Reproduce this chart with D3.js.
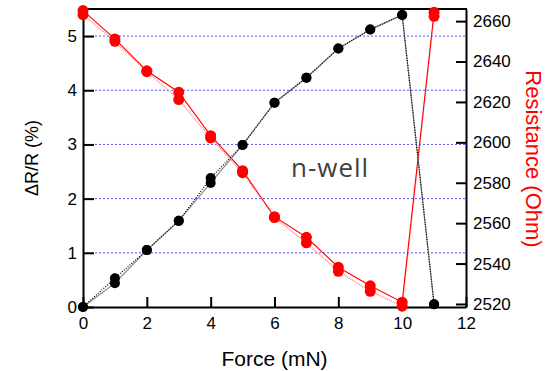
<!DOCTYPE html>
<html>
<head>
<meta charset="utf-8">
<script src="https://cdn.jsdelivr.net/npm/d3@7/dist/d3.min.js"></script>
<style>
  html, body { margin: 0; padding: 0; background: #fff; }
  svg { display: block; }
</style>
</head>
<body>
<script>
// Applied force (mN)
const force = [0, 1, 2, 3, 4, 5, 6, 7, 8, 9, 10, 11];

// ΔR/R (%) — two repeated measurement runs
const dRRunA = [0.00, 0.53, 1.05, 1.59, 2.38, 2.99, 3.77, 4.23, 4.77, 5.12, 5.39, 0.05];
const dRRunB = [0.00, 0.44, 1.05, 1.59, 2.29, 2.99, 3.77, 4.23, 4.77, 5.12, 5.39, 0.05];

// Resistance (Ohm) — two repeated measurement runs
const resRunA = [2665.2, 2651.2, 2635.4, 2624.8, 2603.3, 2586.0, 2563.2, 2553.0, 2538.2, 2529.0, 2520.9, 2664.4];
const resRunB = [2663.2, 2650.0, 2635.0, 2621.2, 2602.2, 2585.0, 2562.8, 2550.3, 2536.2, 2526.3, 2518.9, 2662.4];

// Axis ticks
const xTicks = [0, 2, 4, 6, 8, 10, 12];
const leftTicks = [0, 1, 2, 3, 4, 5];
const rightTicks = [2520, 2540, 2560, 2580, 2600, 2620, 2640, 2660];

const W = 551, H = 371;
const plotL = 83, plotR = 466, plotT = 9, plotB = 307;

const svg = d3.select("body").append("svg").attr("width", W).attr("height", H);
svg.append("rect").attr("width", W).attr("height", H).attr("fill", "#fff");

const x = d3.scaleLinear().domain([0, 12]).range([plotL, plotR]);
const yL = d3.scaleLinear().domain([0, 5.5]).range([plotB, plotT]);
const yR = d3.scaleLinear().domain([2518.5, 2666]).range([plotB, plotT]);

const font = "'Liberation Sans', Arial, sans-serif";

// Horizontal dotted grid from the left axis
svg.append("g").selectAll("line").data(leftTicks.filter(d => d > 0)).join("line")
  .attr("x1", plotL).attr("x2", plotR)
  .attr("y1", d => yL(d)).attr("y2", d => yL(d))
  .attr("stroke", "#5555ff").attr("stroke-width", 1)
  .attr("stroke-dasharray", "2,2");

// Axes (ticks point into the plot)
const axStyle = g => {
  g.selectAll(".domain").attr("stroke", "#000").attr("stroke-width", 2);
  g.selectAll(".tick line").attr("stroke", "#000").attr("stroke-width", 2);
  g.selectAll(".tick text").attr("fill", "#000").style("font-family", font).style("font-size", "17px");
};

svg.append("g").attr("transform", `translate(0,${plotB})`)
  .call(d3.axisBottom(x).tickValues(xTicks).tickFormat(d3.format("d"))
    .tickSizeInner(-10).tickSizeOuter(0).tickPadding(14))
  .call(axStyle)
  .call(g => g.selectAll(".tick text").attr("y", 10).attr("dy", "0.71em"));

svg.append("g").attr("transform", `translate(${plotL},0)`)
  .call(d3.axisLeft(yL).tickValues(leftTicks).tickFormat(d3.format("d"))
    .tickSizeInner(-11).tickSizeOuter(0).tickPadding(6))
  .call(axStyle)
  .call(g => g.selectAll(".tick text").attr("x", -6));

svg.append("g").attr("transform", `translate(${plotR},0)`)
  .call(d3.axisRight(yR).tickValues(rightTicks).tickFormat(d3.format("d"))
    .tickSizeInner(-10).tickSizeOuter(0).tickPadding(7))
  .call(axStyle)
  .call(g => g.selectAll(".tick text").attr("x", 7));

// Top frame
svg.append("line").attr("x1", plotL - 1).attr("x2", plotR + 1)
  .attr("y1", plotT).attr("y2", plotT)
  .attr("stroke", "#000").attr("stroke-width", 2);

// Series lines
const lineL = d3.line().x((d, i) => x(force[i])).y(d => yL(d));
const lineR = d3.line().x((d, i) => x(force[i])).y(d => yR(d));

svg.append("path").datum(resRunB).attr("d", lineR)
  .attr("fill", "none").attr("stroke", "#ff8080").attr("stroke-width", 1.4)
  .attr("stroke-dasharray", "1,1");
svg.append("path").datum(resRunA).attr("d", lineR)
  .attr("fill", "none").attr("stroke", "#ff0000").attr("stroke-width", 1.1);

svg.append("path").datum(dRRunB).attr("d", lineL)
  .attr("fill", "none").attr("stroke", "#888").attr("stroke-width", 1.2);
svg.append("path").datum(dRRunA).attr("d", lineL)
  .attr("fill", "none").attr("stroke", "#000").attr("stroke-width", 1.2)
  .attr("stroke-dasharray", "1,1.5");

// Markers
[resRunA, resRunB].forEach(run => {
  svg.append("g").selectAll("circle").data(run).join("circle")
    .attr("cx", (d, i) => x(force[i])).attr("cy", d => yR(d))
    .attr("r", 5.5).attr("fill", "#ff0000");
});
[dRRunA, dRRunB].forEach(run => {
  svg.append("g").selectAll("circle").data(run).join("circle")
    .attr("cx", (d, i) => x(force[i])).attr("cy", d => yL(d))
    .attr("r", 5).attr("fill", "#000");
});

// Axis titles
svg.append("text").attr("x", (plotL + plotR) / 2).attr("y", 366)
  .attr("text-anchor", "middle").style("font-family", font).style("font-size", "21px")
  .attr("fill", "#000").text("Force (mN)");

svg.append("text").attr("transform", "translate(38,158) rotate(-90)")
  .attr("text-anchor", "middle").style("font-family", font).style("font-size", "18px")
  .attr("fill", "#000").text("ΔR/R (%)");

svg.append("text").attr("transform", "translate(526,159) rotate(90)")
  .attr("text-anchor", "middle").style("font-family", font).style("font-size", "22px")
  .attr("fill", "#ff0000").text("Resistance (Ohm)");

// Annotation
svg.append("text").attr("x", 291).attr("y", 177)
  .style("font-family", "'Open Sans', sans-serif").style("font-size", "26px")
  .style("letter-spacing", "1px")
  .attr("fill", "#404040").text("n-well");
</script>
</body>
</html>
